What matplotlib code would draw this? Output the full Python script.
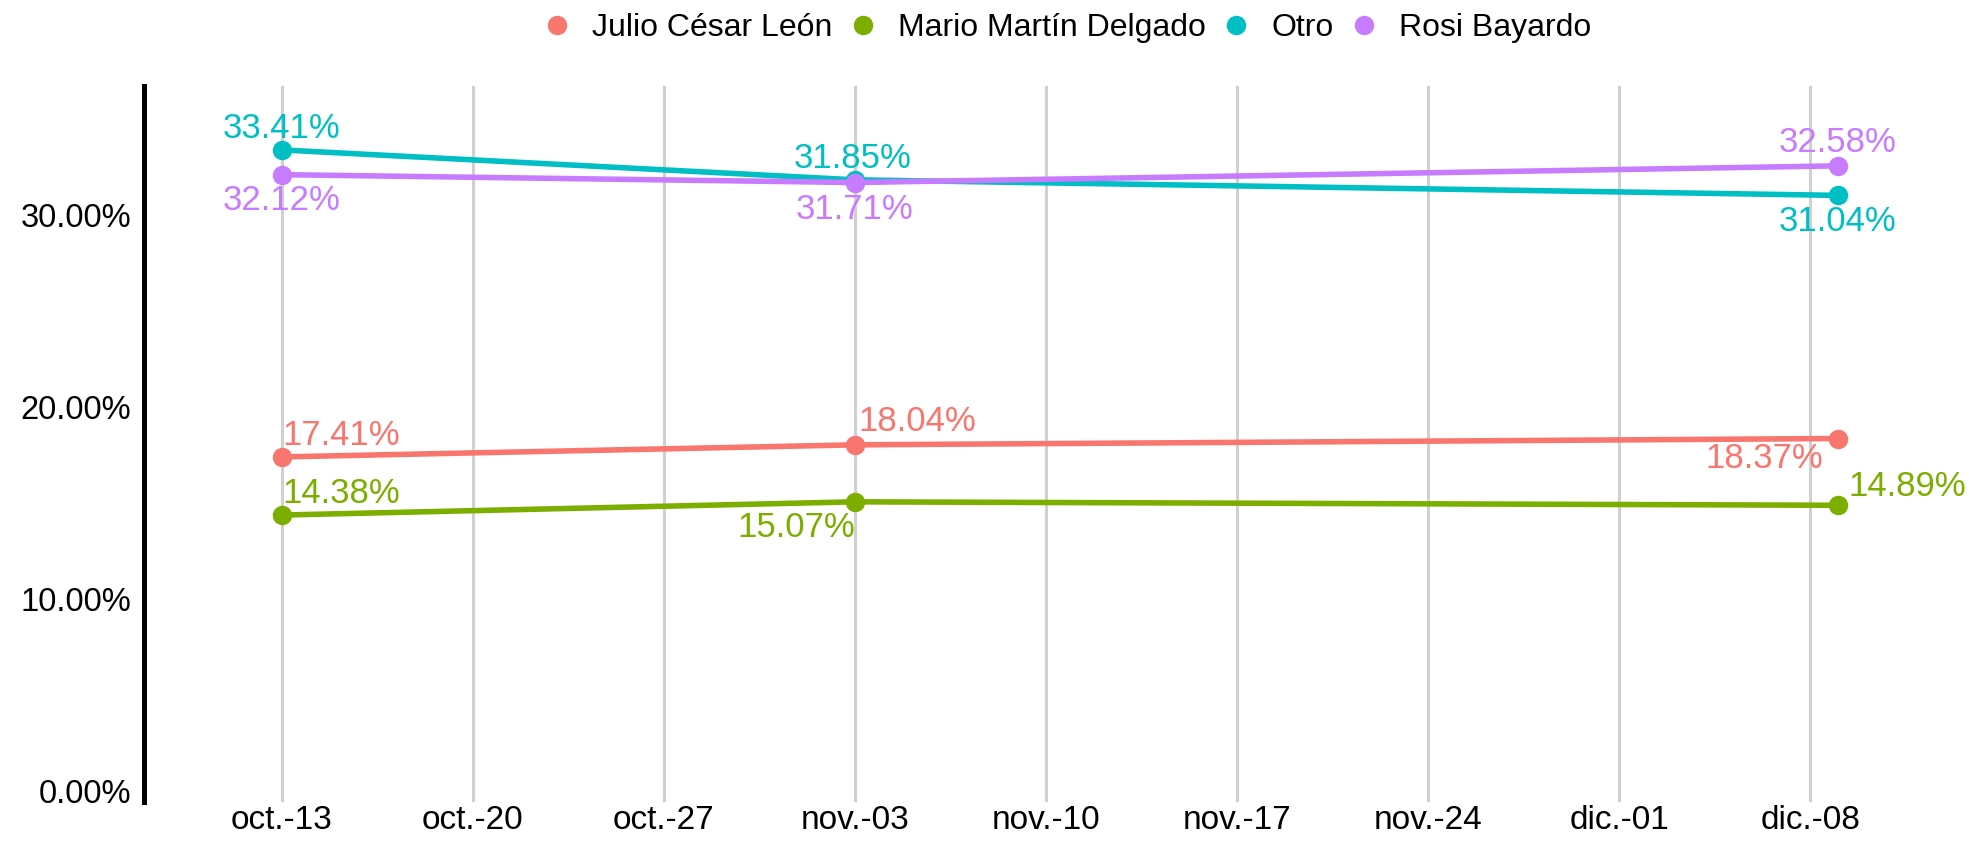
import matplotlib
matplotlib.use('Agg')
from matplotlib import pyplot as plt
from matplotlib import rcParams
import matplotlib.dates as mdates
import numpy as np

rcParams['font.family'] = ['Liberation Sans', 'DejaVu Sans']

# data
dates = np.array(['2024-10-13', '2024-11-03', '2024-12-09'], dtype='datetime64[D]')
julio = [17.41, 18.04, 18.37]
mario = [14.38, 15.07, 14.89]
otro = [33.41, 31.85, 31.04]
rosi = [32.12, 31.71, 32.58]

names = ['Julio César León', 'Mario Martín Delgado', 'Otro', 'Rosi Bayardo']
colors = ['#F8766D', '#7CAE00', '#00BFC4', '#C77CFF']

week_ticks = np.arange(np.datetime64('2024-10-13'), np.datetime64('2024-12-15'), 7)
week_labels = ['oct.-13', 'oct.-20', 'oct.-27', 'nov.-03', 'nov.-10',
               'nov.-17', 'nov.-24', 'dic.-01', 'dic.-08']

# label placement per point: (dx px, dy px to baseline, ha)
label_pos = {
    'Julio César León': [(1, 12, 'left'), (3, 14, 'left'), (-15, -29, 'right')],
    'Mario Martín Delgado': [(1, 12, 'left'), (0, -35, 'right'), (11, 9, 'left')],
    'Otro': [(0, 12, 'center'), (-2, 12, 'center'), (0, -36, 'center')],
    'Rosi Bayardo': [(0, -35, 'center'), (0, -36, 'center'), (0, 14, 'center')],
}

W, H = 1969, 843
fig = plt.figure(figsize=(W / 100, H / 100), dpi=100)
ax = fig.add_axes([144 / W, 1 - 802 / H, (1965 - 144) / W, (802 - 86) / H])

x = mdates.date2num(dates.astype('datetime64[s]').astype(object))
x0 = x[0]

for name, vals, col in zip(names, [julio, mario, otro, rosi], colors):
    ax.plot(x, vals, color=col, lw=4, marker='o', ms=13, label=name,
            solid_capstyle='round', zorder=3)
    for xi, v, (dx, dy, ha) in zip(x, vals, label_pos[name]):
        ax.annotate(f'{v:.2f}%', (xi, v), xytext=(dx * 0.72, dy * 0.72),
                    textcoords='offset points', ha=ha, va='baseline',
                    color=col, fontsize=25, zorder=4)

tick_x = mdates.date2num(week_ticks.astype('datetime64[s]').astype(object))
for t in tick_x:
    ax.axvline(t, color='#d0d0d0', lw=2.2, zorder=1)

px_per_day = 27.3
ax.set_xlim(x0 - 5.04, x0 - 5.04 + (1965 - 144) / px_per_day)
ax.set_ylim(-0.573, 36.74)

ax.set_xticks(tick_x)
ax.set_xticklabels(week_labels)
yt = [0, 10, 20, 30]
ax.set_yticks(yt)
ax.set_yticklabels([f'{v:.2f}%' for v in yt])
ax.tick_params(axis='both', length=0, colors='black')
ax.tick_params(axis='y', pad=9, labelsize=23.5)
ax.tick_params(axis='x', pad=2.5, labelsize=24)

for s in ['top', 'right', 'bottom']:
    ax.spines[s].set_visible(False)
ax.spines['left'].set_linewidth(3.6)
ax.spines['left'].set_color('black')

handles = [plt.Line2D([], [], color=c, marker='o', ls='', ms=13) for c in colors]
fig.legend(handles, names, loc='center', bbox_to_anchor=(1066 / W, 1 - 28 / H),
           ncol=4, frameon=False, fontsize=23, handletextpad=0.6,
           columnspacing=0.45, handlelength=1.0)

fig.savefig('out.png', dpi=100)
